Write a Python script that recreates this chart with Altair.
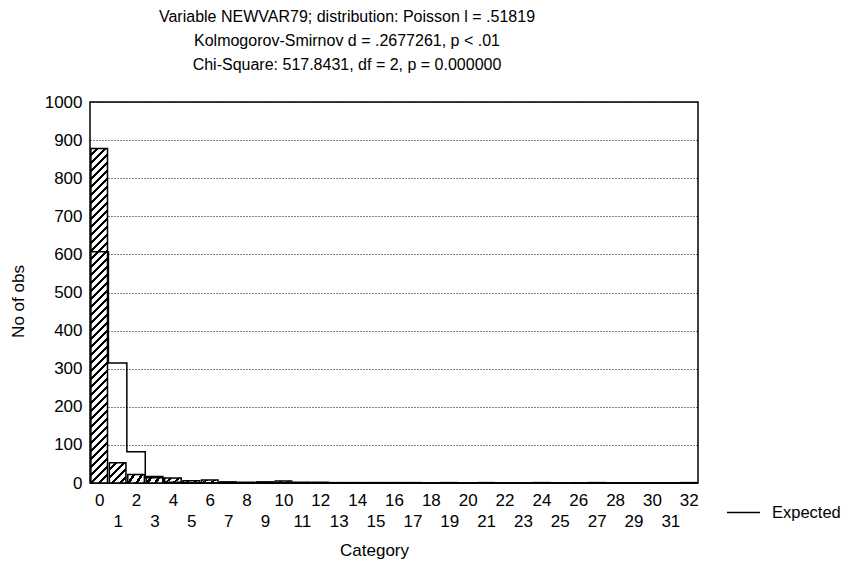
import math
import altair as alt
import pandas as pd

# ---- data ----
categories = list(range(33))
observed = [878, 53, 22, 17, 13, 6, 8, 3, 2, 3, 5, 2, 2, 1, 1, 1, 1,
            1, 0, 1, 0, 1, 0, 0, 1, 0, 0, 1, 0, 0, 0, 0, 1]
expected = [607, 315, 82, 14, 2, 0.2] + [0] * 27
y_ticks = list(range(0, 1001, 100))
title_lines = [
    "Variable NEWVAR79; distribution: Poisson l = .51819",
    "Kolmogorov-Smirnov d = .2677261, p < .01",
    "Chi-Square: 517.8431, df = 2, p = 0.000000",
]
series_name = "Expected"

# ---- layout ----
W, H = 608, 381
FONT = "Liberation Sans"
PX_PER_UNIT = H / 1000.0
BAR_HALF = 0.45
BAR_W = 2 * BAR_HALF * W / 33.0


def hatch(w, h, period=8.0, ink=0.38):
    """Diagonal '/' stripes built as a hard-stop linear gradient."""
    h = max(h, 1.0)
    s = (w + h) / (w * w + h * h)
    p, q = s * w, s * h
    n = (w + h) / period
    stops = []
    k = 0
    while k / n < 1:
        a = k / n
        b = min((k + 1 - ink) / n, 1)
        c = min((k + 1) / n, 1)
        stops += [
            alt.GradientStop(offset=a, color="white"),
            alt.GradientStop(offset=b, color="white"),
            alt.GradientStop(offset=b, color="black"),
            alt.GradientStop(offset=c, color="black"),
        ]
        k += 1
    return alt.LinearGradient(gradient="linear", stops=stops, x1=0, y1=0, x2=p, y2=q)


bars_df = pd.DataFrame({"cat": categories, "observed": observed})
line_df = pd.DataFrame({
    "edge": [c - 0.5 for c in categories] + [categories[-1] + 0.5],
    "expected": expected + [expected[-1]],
    "series": series_name,
})

xscale = alt.Scale(domain=[-0.5, 32.5], nice=False, zero=False)
yscale = alt.Scale(domain=[0, 1000], nice=False)

x_axis = alt.Axis(
    values=categories, title="Category", grid=False, ticks=False, domain=False,
    labelExpr="datum.value % 2 == 1 ? ['', datum.label] : datum.label",
    labelFontSize=17, labelLineHeight=21, labelPadding=9, labelOverlap=False,
    labelFlush=False, labelColor="black", labelAngle=0,
    titleFontSize=17, titleFontWeight="normal", titleColor="black",
    titleX=284, titleY=67, titleAnchor="start", titleAlign="center", titleBaseline="middle",
)
y_axis = alt.Axis(
    values=y_ticks, format="d", title="No of obs", grid=True, gridColor="black",
    gridDash=[1, 2], gridWidth=1, ticks=False, domain=False, labelFontSize=17,
    labelPadding=8, labelColor="black",
    titleFontSize=17, titleFontWeight="normal", titleColor="black",
    titleX=-72, titleY=199, titleAngle=-90, titleAlign="center", titleBaseline="middle",
)

base = alt.Chart(bars_df).transform_calculate(
    x0=f"datum.cat - {BAR_HALF}", x1=f"datum.cat + {BAR_HALF}"
)


def bar_layer(filter_expr, h_px):
    return base.transform_filter(filter_expr).mark_bar(
        fill=hatch(BAR_W, h_px), stroke="black", strokeWidth=1.5
    ).encode(
        x=alt.X("x0:Q", scale=xscale, axis=x_axis),
        x2="x1:Q",
        y=alt.Y("observed:Q", scale=yscale, axis=y_axis),
        y2=alt.datum(0),
    )


bars0 = bar_layer("datum.cat == 0", observed[0] * PX_PER_UNIT)
bars1 = bar_layer("datum.cat == 1", observed[1] * PX_PER_UNIT)
bars_rest = bar_layer("datum.cat >= 2", 6)

line = alt.Chart(line_df).mark_line(
    interpolate="step-after", strokeWidth=1.5
).encode(
    x=alt.X("edge:Q", scale=xscale, axis=x_axis),
    y=alt.Y("expected:Q", scale=yscale, axis=y_axis),
    color=alt.Color(
        "series:N", scale=alt.Scale(range=["black"]),
        legend=alt.Legend(
            title=None, orient="none", legendX=636, legendY=393,
            symbolType="stroke", symbolSize=1089, symbolStrokeWidth=1.5,
            labelFontSize=16.5, labelOffset=11, labelColor="black",
        ),
    ),
)

chart = alt.layer(bars0, bars1, bars_rest, line).properties(
    width=W, height=H,
    title=alt.TitleParams(
        text=title_lines, fontSize=16, fontWeight="normal", color="black",
        lineHeight=24, anchor="middle", dx=-47, offset=20, font=FONT,
    ),
    autosize=alt.AutoSizeParams(type="none"),
    padding={"left": 82, "top": 94, "right": 145, "bottom": 76},
).configure(
    font=FONT,
).configure_view(
    stroke="black", strokeWidth=1.5,
)

chart.save("out.html", embed_options={"renderer": "svg", "actions": False})
